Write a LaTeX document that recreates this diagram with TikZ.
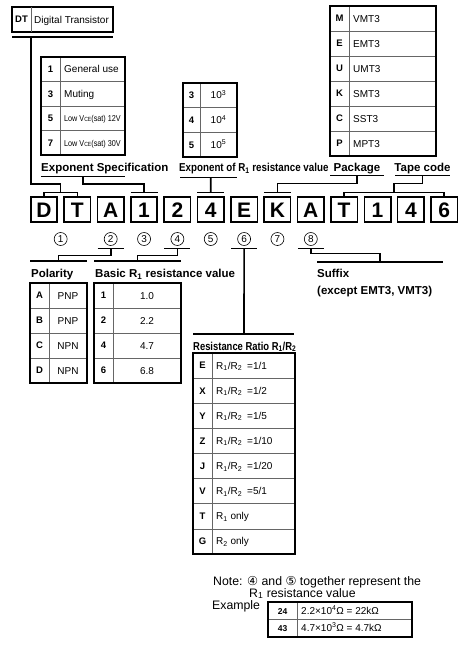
\documentclass[tikz,border=0pt]{standalone}
\usepackage{graphicx}
\usepackage{fontspec}
\setmainfont{Liberation Sans}
\newfontfamily\circfont{DejaVu Sans}
\usetikzlibrary{calc}
\newcommand{\Rone}{R\textsubscript{1}}
\newcommand{\Rtwo}{R\textsubscript{2}}
\newcommand{\Rratio}{\Rone/\Rtwo\enspace}
\newcommand{\lowvce}[1]{\scalebox{0.85}[1]{\fontsize{8.5}{9}\selectfont Low V{\fontsize{6}{6}\selectfont CE}(sat) #1}}
\newcommand{\topbar}[1]{\draw[bar] ([xshift=-13.5pt,yshift=3.5pt]#1.north) -- ([xshift=13.5pt,yshift=3.5pt]#1.north);}
\newcommand{\botbar}[1]{\draw[bar] ([xshift=-13pt,yshift=-2.5pt]#1.south) -- ([xshift=13pt,yshift=-2.5pt]#1.south);}

\begin{document}
\begin{tikzpicture}[x=1pt, y=-1pt,
  code/.style={draw, line width=1.6pt, minimum width=26.4pt, minimum height=25.4pt, inner sep=0pt, text height=15pt, text depth=0pt, font=\fontsize{21}{21}\selectfont\bfseries},
  circ/.style={draw, circle, line width=0.6pt, minimum size=13pt, inner sep=0pt, font=\fontsize{10}{10}\selectfont},
  bar/.style={line width=1.6pt},
  frame/.style={line width=1.6pt},
  rule/.style={line width=0.6pt, black!60},
  key/.style={inner sep=0pt, text height=6.8pt, text depth=0pt, font=\fontsize{9.5}{10}\selectfont\bfseries},
  val/.style={inner sep=0pt, text height=7.2pt, text depth=0pt, font=\fontsize{10}{10}\selectfont},
  head/.style={inner sep=0pt, anchor=base west, font=\fontsize{11.5}{12}\selectfont\bfseries},
  note/.style={inner sep=0pt, anchor=base west, font=\fontsize{12.3}{13}\selectfont}
]
\useasboundingbox (0,0) rectangle (459,656);

% The part number
\foreach \ch [count=\i from 0] in {D,T,A,1,2,4,E,K,A,T,1,4,6}
  \node[code] (c\i) at ({44+33.35*\i},209.5) {\ch};
\foreach \d/\b in {1/0.5,2/2,3/3,4/4,5/5,6/6,7/7,8/8}
  \node[circ] (n\d) at ({44+33.35*\b},239) {\d};

% Title box
\node[key] (dt-key) at (21.5,19.5) {DT};
\node[val, anchor=west] (dt-val) at (34,19.5) {Digital Transistor};
\draw[frame] (12,7) rectangle (113,32);
\draw[rule] (31,7) -- (31,32);
\draw[bar] (12,37) -- (113,37);
\coordinate (dt-line) at (31,37);
\draw[bar] (c0.north) -- ++(0,-3.5) -| (c1.north);
\draw[bar] (dt-line) -- (31,184) -| ($(c0.north)!0.5!(c1.north)+(0,-3.5)$);

% Exponent specification
\foreach \k/\v [count=\i from 0] in {1/General use, 3/Muting, 5/{\lowvce{12V}}, 7/{\lowvce{30V}}} {
  \node[key] (es-k\i) at (50.5,{69.25+24.5*\i}) {\k};
  \node[val, anchor=west] (es-v\i) at (64,{69.25+24.5*\i}) {\v};
}
\foreach \i in {1,2,3} \draw[rule] (41,{57+24.5*\i}) -- (125,{57+24.5*\i});
\draw[rule] (60,57) -- (60,155);
\draw[frame] (41,57) rectangle (125,155);
\node[head] (es-head) at (41,171.5) {Exponent Specification};
\draw[bar] (41,176.5) -- (125,176.5);
\coordinate (es-line) at (83,176.5);
\topbar{c3}
\draw[bar] (es-line) |- (144,184) -- ([yshift=3.5pt]c3.north);

% Exponent of R1 resistance value
\foreach \k/\v [count=\i from 0] in {3/10\textsuperscript{3}, 4/10\textsuperscript{4}, 5/10\textsuperscript{5}} {
  \node[key] (er-k\i) at (191.5,{95.35+24.7*\i}) {\k};
  \node[val] (er-v\i) at (218.5,{95.35+24.7*\i}) {\v};
}
\foreach \i in {1,2} \draw[rule] (183,{83+24.7*\i}) -- (237,{83+24.7*\i});
\draw[rule] (200,83) -- (200,157);
\draw[frame] (183,83) rectangle (237,157);
\node[head] (er-head) at (179,171.5) {\scalebox{0.85}[1]{Exponent of \Rone{} resistance value}};
\draw[bar] (180,177.5) -- (237,177.5);
\coordinate (er-line) at (210.7,177.5);
\topbar{c5}
\draw[bar] (er-line) -- ([yshift=3.5pt]c5.north);

% Package
\foreach \k/\v [count=\i from 0] in {M/VMT3, E/EMT3, U/UMT3, K/SMT3, C/SST3, P/MPT3} {
  \node[key] (pk-k\i) at (339.5,{18.5+25*\i}) {\k};
  \node[val, anchor=west] (pk-v\i) at (353,{18.5+25*\i}) {\v};
}
\foreach \i in {1,...,5} \draw[rule] (330,{6+25*\i}) -- (436,{6+25*\i});
\draw[rule] (349,6) -- (349,156);
\draw[frame] (330,6) rectangle (436,156);
\node[head, anchor=base] (pk-head) at (357,171.5) {Package};
\draw[bar] (330,175.5) -- (384,175.5);
\coordinate (pk-line) at (357,175.5);
\topbar{c7}
\draw[bar] (pk-line) -- ++(0,8) -| ([yshift=3.5pt]c7.north);

% Tape code
\node[head, anchor=base] (tc-head) at (422.5,171.5) {Tape code};
\draw[bar] (395,175.5) -- (450,175.5);
\coordinate (tc-line) at (422.5,175.5);
\draw[bar] (c9.north) -- ++(0,-3.5) -| (c12.north);
\draw[bar] (tc-line) -- ++(0,8) -| ($(c9.north)!0.5!(c12.north)+(0,-3.5)$);

% Polarity
\botbar{n2}
\node[head] (po-head) at (31,277.5) {Polarity};
\draw[bar] (30,261) -- (87,261);
\coordinate (po-line) at (58.5,261);
\draw[bar] ([yshift=-2.5pt]n2.south) -- ++(0,7) -| (po-line);
\foreach \k/\v [count=\i from 0] in {A/PNP, B/PNP, C/NPN, D/NPN} {
  \node[key] (po-k\i) at (39.5,{295.5+25*\i}) {\k};
  \node[val] (po-v\i) at (68,{295.5+25*\i}) {\v};
}
\foreach \i in {1,2,3} \draw[rule] (30,{283+25*\i}) -- (87,{283+25*\i});
\draw[rule] (49,283) -- (49,383);
\draw[frame] (30,283) rectangle (87,383);

% Basic R1 resistance value
\botbar{n4}
\node[head] (br-head) at (95,277.5) {Basic \Rone{} resistance value};
\draw[bar] (94,261) -- (181,261);
\coordinate (br-line) at (137.5,261);
\draw[bar] ([yshift=-2.5pt]n4.south) -- ++(0,7) -| (br-line);
\foreach \k/\v [count=\i from 0] in {1/1.0, 2/2.2, 4/4.7, 6/6.8} {
  \node[key] (br-k\i) at (103.5,{295.5+25*\i}) {\k};
  \node[val] (br-v\i) at (147,{295.5+25*\i}) {\v};
}
\foreach \i in {1,2,3} \draw[rule] (94,{283+25*\i}) -- (181,{283+25*\i});
\draw[rule] (113,283) -- (113,383);
\draw[frame] (94,283) rectangle (181,383);

% Resistance ratio
\botbar{n6}
\draw[bar] (193,334) -- (294,334);
\coordinate (rr-line) at (244,334);
\draw[bar] ([yshift=-2.5pt]n6.south) -- (rr-line);
\node[head] (rr-head) at (193,350) {\scalebox{0.82}[1]{Resistance Ratio \Rone/\Rtwo}};
\foreach \k/\v [count=\i from 0] in {E/{\Rratio=1/1}, X/{\Rratio=1/2}, Y/{\Rratio=1/5}, Z/{\Rratio=1/10}, J/{\Rratio=1/20}, V/{\Rratio=5/1}, T/{\Rone{} only}, G/{\Rtwo{} only}} {
  \node[key] (rr-k\i) at (202.5,{365.5+25.125*\i}) {\k};
  \node[val, anchor=west] (rr-v\i) at (216,{365.5+25.125*\i}) {\v};
}
\foreach \i in {1,...,7} \draw[rule] (193,{353+25.125*\i}) -- (295,{353+25.125*\i});
\draw[rule] (212,353) -- (212,554);
\draw[frame] (193,353) rectangle (295,554);

% Suffix
\botbar{n8}
\draw[bar] (317,262) -- (443,262);
\coordinate (sf-line) at (380,262);
\draw[bar] ([yshift=-2.5pt]n8.south) -- ++(0,5) -| (sf-line);
\node[head] (sf-head) at (317,277.5) {Suffix};
\node[head] (sf-note) at (317,294.5) {(except EMT3, VMT3)};

% Note and example
\node[note] (note1) at (213,585) {Note: {\circfont ④} and {\circfont ⑤} together represent the};
\node[note] (note2) at (249,597) {\Rone{} resistance value};
\node[note] (ex-label) at (212,609.5) {Example};
\node[key, font=\fontsize{8.5}{9}\selectfont\bfseries] (ex-k0) at (282.5,611) {24};
\node[val, anchor=west, font=\fontsize{10}{10}\selectfont] (ex-v0) at (301,611) {2.2×10\textsuperscript{4}Ω = 22kΩ};
\node[key, font=\fontsize{8.5}{9}\selectfont\bfseries] (ex-k1) at (282.5,628) {43};
\node[val, anchor=west, font=\fontsize{10}{10}\selectfont] (ex-v1) at (301,628) {4.7×10\textsuperscript{3}Ω = 4.7kΩ};
\draw[rule] (268,619.5) -- (412,619.5);
\draw[rule] (297,602) -- (297,637);
\draw[frame] (268,602) rectangle (412,637);
\end{tikzpicture}
\end{document}
